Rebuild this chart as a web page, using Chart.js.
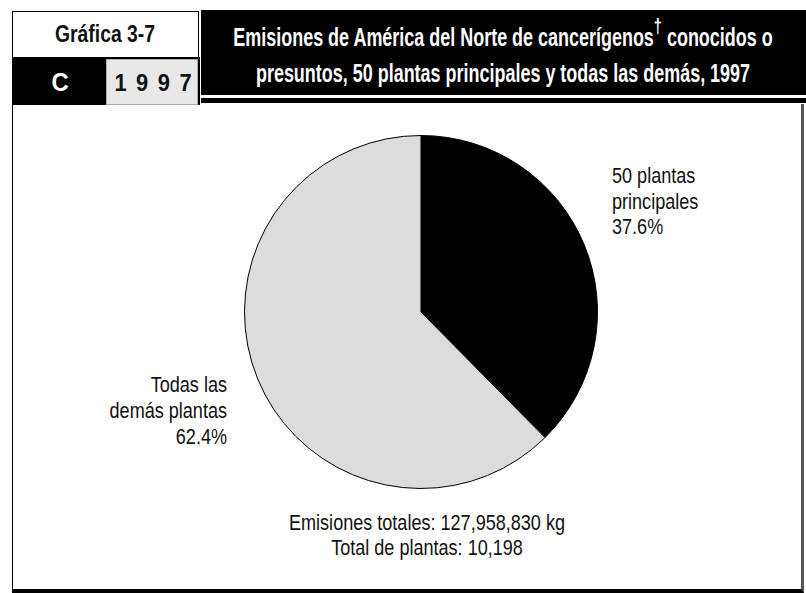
<!DOCTYPE html>
<html>
<head>
<meta charset="utf-8">
<script src="https://cdn.jsdelivr.net/npm/chart.js@4"></script>
<style>
  html, body { margin: 0; padding: 0; background: #fff; }
  body { width: 806px; height: 593px; position: relative; overflow: hidden; font-family: "Liberation Sans", Arial, sans-serif; }
  .abs { position: absolute; }
  .txt { position: absolute; white-space: nowrap; line-height: 1; transform-origin: 0 50%; }
  #tagBox { left: 12px; top: 11px; width: 185px; height: 45px; border: 1px solid #000; background: #fff; }
  #tagBlack { left: 12px; top: 57px; width: 188px; height: 48px; background: #000; }
  #year { left: 106px; top: 59px; width: 92px; height: 46px; background: #e8e8e8; border: 1px solid #aaa; box-sizing: border-box; }
  #titleBox { left: 201px; top: 10px; width: 605px; height: 85px; background: #000; }
  #rule { left: 201px; top: 98px; width: 605px; height: 5px; background: #000; }
  #panel { left: 12px; top: 104px; width: 788px; height: 485px; border-left: 1px solid #000; border-right: 3px solid #555;
           border-bottom: 4px solid #000; background: #fff; }
  #chartWrap { left: 241px; top: 132px; width: 360px; height: 360px; }
</style>
</head>
<body>
<div id="panel" class="abs"></div>
<div id="tagBox" class="abs"></div>
<div id="tagBlack" class="abs"></div>
<div id="year" class="abs"></div>
<div id="titleBox" class="abs"></div>
<div id="rule" class="abs"></div>
<div id="chartWrap" class="abs"><canvas id="pie"></canvas></div>

<script>
// data
const categories = ['50 plantas principales', 'Todas las demás plantas'];
const shares = [37.6, 62.4];
const sliceColors = ['#000000', '#dcdcdc'];
const labelLines = [['50 plantas', 'principales'], ['Todas las', 'demás plantas']];
const totalEmissions = '127,958,830';
const totalPlants = '10,198';
const chartNo = 'Gráfica 3-7';
const chartLetter = 'C';
const chartYear = '1997';
const titleLines = ['Emisiones de América del Norte de cancerígenos<sup>†</sup> conocidos o',
                    'presuntos, 50 plantas principales y todas las demás, 1997'];

// condensed look: Liberation Sans squeezed to the widths measured on the reference
const measure = document.createElement('canvas').getContext('2d');
function squeeze(font, text, width) {
    measure.font = font;
    return width / measure.measureText(text).width;
}
const bodyFont = '21.5px "Liberation Sans"';
const titleFont = 'bold 26px "Liberation Sans"';
const tagFont = 'bold 23px "Liberation Sans"';
const bodyScale = squeeze(bodyFont, 'Emisiones totales: 127,958,830 kg', 276);
const titleScale = squeeze(titleFont, 'Emisiones de América del Norte de cancerígenos conocidos o', 532);
const tagScale = squeeze(tagFont, chartNo, 100);

// x anchor, cap centre y, align ('l','r','c')
function put(html, x, y, align, font, size, scale, color, extra) {
    const el = document.createElement('div');
    el.className = 'txt';
    el.innerHTML = html;
    el.style.font = font;
    el.style.lineHeight = '1';
    el.style.color = color || '#111';
    el.style.left = x + 'px';
    el.style.top = (y - 0.49 * size) + 'px';
    const shift = align === 'r' ? -100 : align === 'c' ? -50 : 0;
    el.style.transform = 'scaleX(' + scale + ') translateX(' + shift + '%)';
    if (extra) Object.assign(el.style, extra);
    document.body.appendChild(el);
}

put(chartNo, 104.5, 34.5, 'c', tagFont, 23, tagScale, '#111');
put(chartLetter, 60, 82, 'c', 'bold 25px "Liberation Sans"', 25, 0.95, '#fff');
put(chartYear, 153, 83, 'c', 'bold 23px "Liberation Sans"', 23, 0.95, '#111', { letterSpacing: '10px', paddingLeft: '10px' });

put(titleLines[0].replace('<sup>', '<sup style="font-size:21px;position:relative;top:-4px;line-height:0;">'),
    503, 37, 'c', titleFont, 26, titleScale, '#fff');
put(titleLines[1], 503, 72.5, 'c', titleFont, 26, titleScale, '#fff');

const topLines = labelLines[0].concat([shares[0].toFixed(1) + '%']);
topLines.forEach((t, i) => put(t, 612, 177 + i * 25.2, 'l', bodyFont, 21.5, bodyScale));
const leftLines = labelLines[1].concat([shares[1].toFixed(1) + '%']);
leftLines.forEach((t, i) => put(t, 227, 386 + i * 26, 'r', bodyFont, 21.5, bodyScale));

put('Emisiones totales: ' + totalEmissions + ' kg', 427, 524, 'c', bodyFont, 21.5, bodyScale);
put('Total de plantas: ' + totalPlants, 427, 549, 'c', bodyFont, 21.5, bodyScale);

const ctx = document.getElementById('pie').getContext('2d');
new Chart(ctx, {
    type: 'pie',
    data: {
        labels: categories,
        datasets: [{
            data: shares,
            backgroundColor: sliceColors,
            borderColor: '#000',
            borderWidth: 1
        }]
    },
    options: {
        responsive: true,
        maintainAspectRatio: false,
        animation: false,
        layout: { padding: 3 },
        plugins: {
            legend: { display: false },
            tooltip: { enabled: false }
        }
    }
});
</script>
</body>
</html>
